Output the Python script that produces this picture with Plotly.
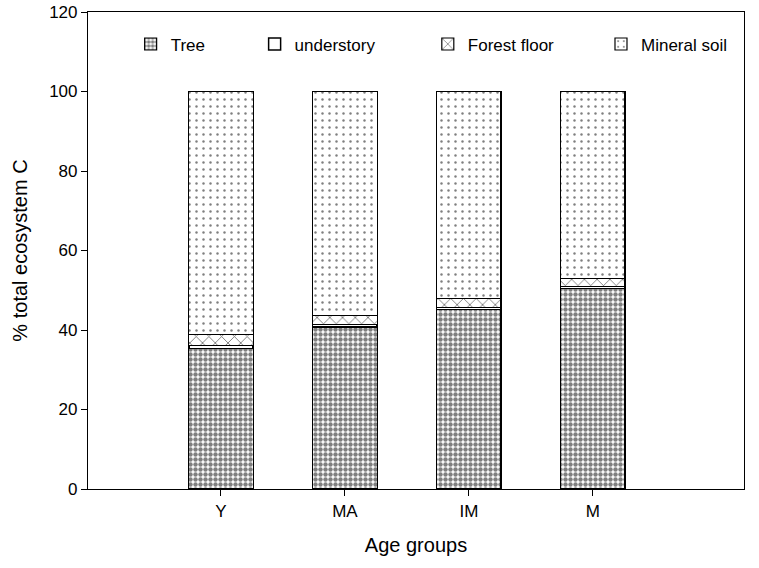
import plotly.graph_objects as go

categories = ["Y", "MA", "IM", "M"]
tree = [35.4, 40.8, 45.1, 50.5]
understory = [0.7, 0.6, 0.6, 0.5]
forest_floor = [2.7, 2.3, 2.2, 1.9]
mineral_soil = [100 - a - b - c for a, b, c in zip(tree, understory, forest_floor)]
y_ticks = [0, 20, 40, 60, 80, 100, 120]

xpos = [1, 2, 3, 4]
BW = 0.52
LINE = dict(color="black", width=1.2)

fig = go.Figure()
fig.add_trace(go.Bar(name="Tree", x=xpos, y=tree, width=BW, legend="legend",
                     marker=dict(color="white", line=LINE,
                                 pattern=dict(shape=".", fgcolor="black", bgcolor="white",
                                              size=5, solidity=0.62))))
fig.add_trace(go.Bar(name="understory", x=xpos, y=understory, width=BW, legend="legend2",
                     marker=dict(color="white", line=dict(color="black", width=1.5))))
fig.add_trace(go.Bar(name="Forest floor", x=xpos, y=forest_floor, width=BW, legend="legend3",
                     marker=dict(color="white", line=LINE,
                                 pattern=dict(shape="x", fgcolor="black", bgcolor="white",
                                              size=9, solidity=0.2))))
fig.add_trace(go.Bar(name="Mineral soil", x=xpos, y=mineral_soil, width=BW, legend="legend4",
                     marker=dict(color="white", line=LINE,
                                 pattern=dict(shape=".", fgcolor="black", bgcolor="white",
                                              size=7, solidity=0.1))))

leg_common = dict(orientation="h", yanchor="middle", y=0.932, xanchor="left",
                  bgcolor="rgba(0,0,0,0)", font=dict(size=17))
fig.update_layout(
    barmode="stack",
    width=759, height=568,
    margin=dict(l=88, r=15, t=12, b=79, autoexpand=False),
    plot_bgcolor="white", paper_bgcolor="white",
    font=dict(family="Liberation Sans, Arial, sans-serif", size=17, color="black"),
    showlegend=True,
    legend=dict(x=0.065, **leg_common),
    legend2=dict(x=0.254, **leg_common),
    legend3=dict(x=0.518, **leg_common),
    legend4=dict(x=0.782, **leg_common),
)
fig.update_xaxes(
    tickmode="array", tickvals=xpos, ticktext=categories,
    range=[-0.073, 5.22], automargin=False,
    showline=True, linecolor="black", linewidth=1.2, mirror=True,
    ticks="outside", ticklen=6, tickcolor="black",
    showgrid=False, zeroline=False,
    title=dict(text="Age groups", font=dict(size=20), standoff=18),
    tickfont=dict(size=17),
)
fig.update_yaxes(
    range=[0, 120], tickvals=y_ticks, automargin=False,
    ticklabeloverflow="allow",
    showline=True, linecolor="black", linewidth=1.2, mirror=True,
    ticks="outside", ticklen=6, tickcolor="black",
    showgrid=False, zeroline=False,
    title=dict(text="% total ecosystem C", font=dict(size=20), standoff=16),
    tickfont=dict(size=17),
)

fig.write_html("out.html",
               config={"displayModeBar": False},
               post_script="document.body.style.margin='0';document.body.style.overflow='hidden';")
